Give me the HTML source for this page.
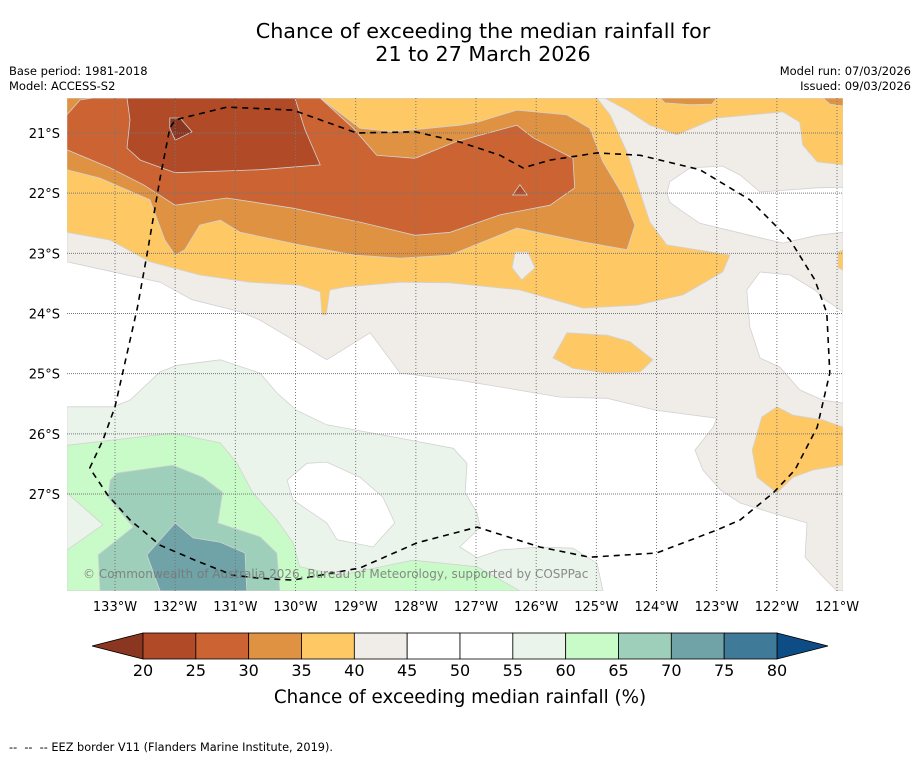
<!DOCTYPE html>
<html><head><meta charset="utf-8"><style>
body{margin:0;background:#fff;width:919px;height:758px;overflow:hidden;font-family:"DejaVu Sans","Liberation Sans",sans-serif;}
svg{position:absolute;left:0;top:0;font-family:"DejaVu Sans","Liberation Sans",sans-serif;}
</style></head><body>
<svg id="chart" width="919" height="758" xmlns="http://www.w3.org/2000/svg">
<text x="483" y="38" text-anchor="middle" font-size="20.7" fill="#000">Chance of exceeding the median rainfall for</text>
<text x="483" y="61" text-anchor="middle" font-size="20.7" fill="#000">21 to 27 March 2026</text>
<text x="9" y="75" font-size="11.5">Base period: 1981-2018</text>
<text x="9" y="90" font-size="11.5">Model: ACCESS-S2</text>
<text x="911" y="75" font-size="11.5" text-anchor="end">Model run: 07/03/2026</text>
<text x="911" y="90" font-size="11.5" text-anchor="end">Issued: 09/03/2026</text>
<g id="map"></g>
<g id="cbar"></g>
<text x="460" y="703" text-anchor="middle" font-size="18.3">Chance of exceeding median rainfall (%)</text>
<text x="9" y="751" font-size="11.3" xml:space="preserve" style="white-space:pre">--  --  -- EEZ border V11 (Flanders Marine Institute, 2019).</text>
</svg>
<script>
// axis extents (degrees West / degrees South)
const lonTicks=[133,132,131,130,129,128,127,126,125,124,123,122,121];
const latTicks=[21,22,23,24,25,26,27];
const cbarLevels=[20,25,30,35,40,45,50,55,60,65,70,75,80];
const cbarColors=["#b04a27","#cb6332","#e09243","#fec965","#f0ece7","#ffffff","#ffffff","#ebf4eb","#c9fbc9","#9dcfba","#6fa3a7","#3f7a98"];
const cbarLowColor="#8a3620", cbarHighColor="#0d4c85";
const beige=[[133.80,20.42],[120.90,20.42],[120.90,28.61],[121.00,28.61],[121.23,28.38],[121.53,28.05],[121.50,27.48],[122.06,27.32],[122.61,27.15],[122.94,26.93],[123.23,26.60],[123.36,26.27],[123.06,25.89],[123.00,25.74],[124.00,25.61],[124.82,25.41],[125.60,25.39],[127.27,25.11],[128.26,24.99],[128.76,24.32],[129.48,24.77],[130.59,24.11],[130.92,23.97],[131.72,23.77],[132.25,23.48],[133.80,23.14]];
const whiteNE=[[123.83,22.00],[123.78,21.81],[123.44,21.58],[122.90,21.55],[122.61,21.70],[122.28,21.98],[121.33,21.91],[120.90,21.90],[120.90,22.65],[121.33,22.70],[121.90,22.83],[122.45,22.70],[123.28,22.50],[123.56,22.31],[123.78,22.15]];
const whiteE=[[122.50,23.61],[122.28,23.31],[121.78,23.36],[121.37,23.61],[121.20,23.77],[120.90,23.97],[120.90,25.49],[121.23,25.44],[121.62,25.27],[121.95,24.89],[122.28,24.74],[122.45,24.22]];
const yellowMain=[[133.80,20.42],[124.99,20.42],[124.77,20.70],[124.49,21.32],[124.11,22.48],[123.83,22.86],[122.78,23.03],[122.90,23.31],[123.56,23.69],[124.32,23.86],[125.22,23.91],[126.27,23.61],[127.43,23.49],[128.26,23.48],[129.18,23.56],[129.43,23.61],[129.49,24.02],[129.56,24.02],[129.59,23.64],[129.93,23.53],[130.76,23.48],[131.59,23.36],[132.42,23.14],[133.08,22.78],[133.80,22.65]];
const yellowNE=[[124.86,20.42],[120.90,20.42],[120.90,21.53],[121.33,21.48],[121.57,21.20],[121.62,20.82],[121.90,20.65],[123.00,20.75],[123.66,21.03],[124.11,20.87],[124.49,20.62]];
const orangeTop1=[[123.94,20.42],[123.00,20.42],[123.08,20.52],[123.44,20.53],[123.86,20.50]];
const orangeTop2=[[121.23,20.42],[120.90,20.42],[120.90,20.55],[121.12,20.52]];
const yellowEdge=[[120.98,22.98],[120.90,22.94],[120.90,23.28],[120.98,23.24]];
const yellowBlob1=[[125.72,24.74],[125.49,24.32],[124.82,24.36],[124.44,24.47],[124.06,24.77],[124.27,24.97],[124.82,24.99],[125.39,24.91]];
const yellowBlob2=[[122.00,25.55],[122.25,25.72],[122.41,26.27],[122.33,26.72],[122.00,26.98],[121.73,26.72],[121.40,26.60],[120.90,26.52],[120.90,25.89],[121.23,25.77],[121.73,25.69]];
const beigeSpot=[[126.35,22.98],[126.14,22.98],[126.02,23.24],[126.24,23.44],[126.40,23.24]];
const orange=[[133.80,20.42],[129.59,20.42],[128.93,20.92],[128.38,20.98],[127.27,20.87],[126.98,20.82],[126.32,20.62],[125.49,20.70],[125.11,20.92],[124.89,21.48],[124.56,22.03],[124.36,22.53],[124.49,22.94],[125.22,22.81],[126.32,22.58],[127.43,23.03],[128.26,23.08],[129.01,23.03],[129.93,22.86],[130.92,22.65],[131.25,22.45],[131.59,22.53],[131.84,22.94],[132.00,23.03],[132.17,22.78],[132.42,22.11],[133.25,21.75],[133.80,21.61]];
const darkOrange=[[133.80,20.70],[133.58,20.45],[133.37,20.42],[129.59,20.42],[129.04,20.92],[128.65,21.37],[128.01,21.42],[127.35,21.15],[126.32,20.87],[126.05,21.08],[125.39,21.42],[125.36,21.91],[125.77,22.20],[126.60,22.36],[127.43,22.65],[128.01,22.70],[128.93,22.48],[130.04,22.25],[131.14,22.08],[132.00,22.20],[132.53,21.86],[133.08,21.58],[133.80,21.28]];
const brown=[[132.80,20.42],[130.01,20.42],[129.84,20.95],[129.59,21.53],[130.59,21.61],[132.00,21.66],[132.58,21.45],[132.80,21.25],[132.75,20.78]];
const brownDark=[[132.09,20.75],[131.92,20.75],[131.72,20.98],[132.00,21.12],[132.09,20.92]];
const brownTri=[[126.39,22.03],[126.27,21.86],[126.15,22.03]];
const lightGreen=[[133.80,25.55],[133.03,25.55],[132.75,25.44],[132.25,24.97],[131.97,24.86],[131.25,24.77],[130.59,24.99],[130.31,25.32],[129.98,25.61],[129.48,25.85],[128.38,26.05],[127.38,26.24],[127.15,26.49],[127.18,26.98],[126.98,27.32],[126.93,27.55],[127.27,27.88],[126.98,28.06],[126.60,27.93],[125.94,27.88],[125.39,27.90],[124.99,28.15],[124.89,28.61],[133.80,28.61]];
const whiteIsland=[[130.14,26.77],[129.81,26.49],[129.48,26.47],[128.93,26.72],[128.55,27.05],[128.35,27.48],[128.71,27.88],[129.31,27.76],[129.48,27.48],[130.04,27.10]];
const green=[[133.80,26.19],[132.04,25.99],[131.25,26.15],[130.97,26.49],[130.71,26.98],[130.31,27.43],[130.04,27.81],[129.93,28.21],[129.26,28.35],[128.05,28.10],[126.98,28.21],[126.27,28.61],[133.80,28.61]];
const lightGreenWedge=[[133.80,26.98],[133.20,27.51],[133.80,27.93]];
const tealLight=[[133.08,26.77],[132.97,26.65],[132.04,26.52],[131.54,26.72],[131.21,26.97],[131.29,27.48],[130.59,27.71],[130.31,27.98],[130.26,28.61],[133.25,28.61],[133.28,28.01],[132.70,27.55],[133.12,27.05]];
const teal=[[132.00,27.48],[131.70,27.73],[131.25,27.80],[130.84,27.98],[130.81,28.61],[132.25,28.61],[132.47,28.01]];
const eez=[[133.42,26.57],[133.20,26.10],[133.00,25.55],[132.63,23.91],[132.47,23.03],[132.25,21.75],[132.09,20.92],[132.00,20.78],[131.14,20.57],[130.04,20.62],[128.98,21.00],[128.01,20.98],[127.27,21.15],[126.60,21.37],[126.22,21.58],[125.77,21.45],[124.99,21.33],[124.27,21.37],[123.28,21.61],[122.45,22.11],[121.78,22.78],[121.37,23.44],[121.17,23.99],[121.12,24.99],[121.33,25.89],[121.70,26.60],[122.06,26.98],[122.61,27.43],[123.00,27.60],[124.00,27.98],[125.11,28.05],[125.94,27.88],[126.98,27.55],[127.98,27.81],[128.93,28.23],[130.04,28.43],[130.59,28.40],[131.04,28.35],[131.67,28.10],[132.25,27.85],[132.75,27.43],[133.12,27.02],[133.42,26.57]];

const layers=[
 ["beige-region","#f0ece7",beige],["white-ne-region","#ffffff",whiteNE],["white-e-region","#ffffff",whiteE],
 ["yellow-main-region","#fec965",yellowMain],["yellow-ne-region","#fec965",yellowNE],["orange-top-1","#e09243",orangeTop1],["orange-top-2","#e09243",orangeTop2],
 ["yellow-edge-region","#fec965",yellowEdge],["yellow-blob-1","#fec965",yellowBlob1],["yellow-blob-2","#fec965",yellowBlob2],["beige-spot","#f0ece7",beigeSpot],
 ["orange-region","#e09243",orange],["dark-orange-region","#cb6332",darkOrange],["brown-region","#b04a27",brown],["brown-dark-spot","#8a3620",brownDark],["brown-triangle","#b04a27",brownTri],
 ["light-green-region","#ebf4eb",lightGreen],["white-island","#ffffff",whiteIsland],["green-region","#c9fbc9",green],["light-green-wedge","#ebf4eb",lightGreenWedge],
 ["teal-light-region","#9dcfba",tealLight],["teal-region","#6fa3a7",teal]
];
const X0=67,X1=843,Y0=98,Y1=591,S=60.17;
function xScale(lon){return 115+(133-lon)*S;}
function yScale(lat){return 133+(lat-21)*S;}
const NS="http://www.w3.org/2000/svg";
function mk(t,a,p){const e=document.createElementNS(NS,t);for(const k in a)e.setAttribute(k,a[k]);p.appendChild(e);return e;}
function pts(arr){return arr.map(p=>xScale(p[0]).toFixed(1)+","+yScale(p[1]).toFixed(1)).join(" ");}
const map=document.getElementById("map");
const defs=mk("defs",{},map);
const cp=mk("clipPath",{id:"clip"},defs);
mk("rect",{x:X0,y:Y0,width:X1-X0,height:Y1-Y0},cp);
const g=mk("g",{"clip-path":"url(#clip)"},map);
const bg=mk("rect",{x:X0,y:Y0,width:X1-X0,height:Y1-Y0,fill:"#fff"},g);


layers.forEach(L=>{
 const p=mk("polygon",{points:pts(L[2]),fill:L[1],stroke:"#d2d2d2","stroke-width":"0.8"},g);
 
 
});
lonTicks.forEach(v=>{
 const x=xScale(v);
 const l=mk("line",{x1:x,x2:x,y1:Y0,y2:Y1,stroke:"#777","stroke-width":"1","stroke-dasharray":"1,2"},g);
 
 
 const t=mk("text",{x:x,y:611,"text-anchor":"middle","font-size":"13"},map);
 t.textContent=v+"°W";
 
 
});
latTicks.forEach(v=>{
 const y=yScale(v);
 const l=mk("line",{x1:X0,x2:X1,y1:y,y2:y,stroke:"#777","stroke-width":"1","stroke-dasharray":"1,1"},g);
 
 
 const t=mk("text",{x:60,y:y+5,"text-anchor":"end","font-size":"13"},map);
 t.textContent=v+"°S";
 
 
});
const ez=mk("polyline",{points:pts(eez),fill:"none",stroke:"#000","stroke-width":"1.6","stroke-dasharray":"6,5"},g);


const cr=mk("text",{x:83,y:578,"font-size":"12",fill:"#777","fill-opacity":"0.85"},map);
cr.textContent="© Commonwealth of Australia 2026, Bureau of Meteorology, supported by COSPPac";


const cb=document.getElementById("cbar");
const cx0=143,cx1=777,cy0=633,cy1=659,n=cbarColors.length;
function cbX(v){return cx0+(v-cbarLevels[0])/(cbarLevels[n]-cbarLevels[0])*(cx1-cx0);}
const lt=mk("polygon",{points:`${cx0},${cy0} ${cx0},${cy1} 92,${(cy0+cy1)/2}`,fill:cbarLowColor,stroke:"#000","stroke-width":"0.8"},cb);


const rt=mk("polygon",{points:`${cx1},${cy0} ${cx1},${cy1} 828,${(cy0+cy1)/2}`,fill:cbarHighColor,stroke:"#000","stroke-width":"0.8"},cb);


cbarColors.forEach((c,i)=>{
 const r=mk("rect",{x:cbX(cbarLevels[i]),y:cy0,width:cbX(cbarLevels[i+1])-cbX(cbarLevels[i]),height:cy1-cy0,fill:c,stroke:"#000","stroke-width":"0.8"},cb);
 
 
});
cbarLevels.forEach(v=>{
 const t=mk("text",{x:cbX(v),y:676,"text-anchor":"middle","font-size":"16"},cb);
 t.textContent=v;
 
 
});
</script>
</body></html>
